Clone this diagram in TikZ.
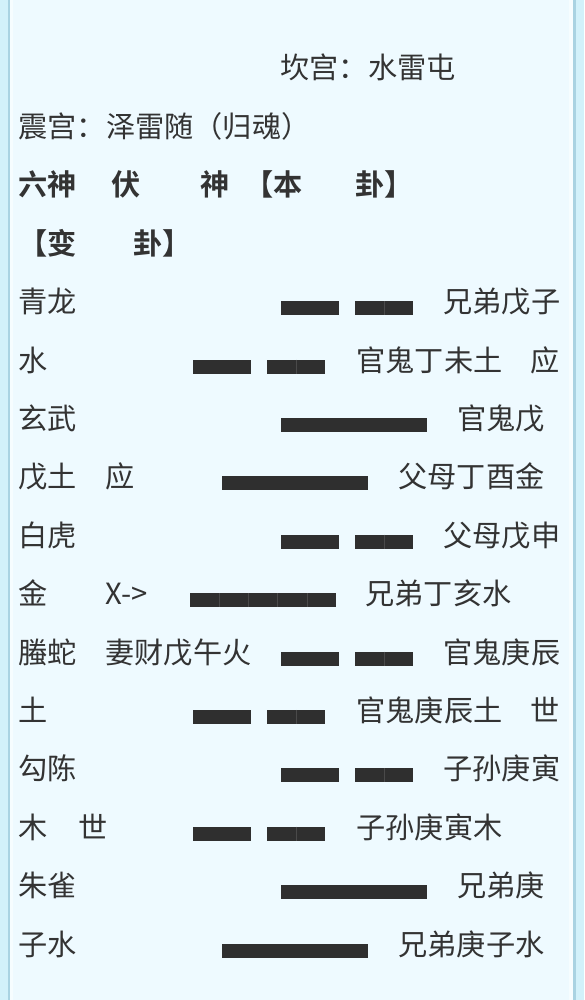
\documentclass[tikz,border=0pt]{standalone}
\usepackage{fontspec}
\usetikzlibrary{calc}
\setmainfont{Noto Sans CJK SC}[BoldFont={Noto Sans CJK SC Bold}]
\definecolor{bg}{HTML}{EEFAFF}
\definecolor{edgec}{HTML}{D2F1FA}
\definecolor{edgeline}{HTML}{A9D3E2}
\definecolor{edgelight}{HTML}{F6FDFF}
\definecolor{inkc}{HTML}{333333}
\definecolor{barc}{HTML}{2F2F2F}
\definecolor{sepc}{HTML}{4A4A4A}
\tikzset{
  txt/.style={anchor=base west, inner sep=0pt, outer sep=0pt, xshift=1pt, text=inkc, font=\fontsize{29.2}{34}\selectfont},
  hdr/.style={txt, font=\fontsize{29.2}{34}\selectfont\bfseries},
  barpiece/.style={anchor=north west, fill=barc, draw=none, inner sep=0pt, outer sep=0pt, minimum height=14pt, minimum width=#1},
  barpiece/.default=58pt,
  sep/.style={sepc, line width=0.6pt}
}
\begin{document}
\begin{tikzpicture}[x=1pt,y=-1pt]
\useasboundingbox (0,0) rectangle (584,1000);
% background and side borders
\fill[bg] (0,0) rectangle (584,1000);
\fill[edgec] (0,0) rectangle (8,1000);
\fill[edgeline] (8,0) rectangle (10,1000);
\fill[edgelight] (10,0) rectangle (12.7,1000);
\fill[edgelight] (569,0) rectangle (573,1000);
\fill[edgeline] (573,0) rectangle (576,1000);
\fill[edgec] (576,0) rectangle (584,1000);

% titles
\node[txt] (t1) at (279.5,79) {坎宫：水雷屯};
\node[txt] (t2) at (17.5,137.4) {震宫：泽雷随（归魂）};
% header
\node[hdr] (h1) at (17.5,195.8) {六神};
\node[hdr] (h2) at (110.5,195.8) {伏};
\node[hdr] (h3) at (199.5,195.8) {神};
\node[hdr] (h4) at (243.5,195.8) {【本};
\node[hdr] (h5) at (354.5,195.8) {卦】};
\node[hdr] (h6) at (17.5,254.2) {【变};
\node[hdr] (h7) at (132.5,254.2) {卦】};

% row 4 青龙
\node[txt] (l4) at (17.5,312.6) {青龙};
\node[barpiece] (b4a) at (281,301.1) {};
\node[barpiece] (b4b) at (355,301.1) {};
\draw[sep] (b4b.north) -- (b4b.south);
\node[txt] (r4) at (442.5,312.6) {兄弟戊子};

% row 5 水
\node[txt] (l5) at (17.5,371) {水};
\node[barpiece] (b5a) at (193,359.5) {};
\node[barpiece] (b5b) at (267,359.5) {};
\draw[sep] (b5b.north) -- (b5b.south);
\node[txt] (r5) at (355.5,371) {官鬼丁未土};
\node[txt] (s5) at (529.5,371) {应};

% row 6 玄武
\node[txt] (l6) at (17.5,429.4) {玄武};
\node[barpiece=146pt] (b6) at (281,417.9) {};
\node[txt] (r6) at (456.5,429.4) {官鬼戊};

% row 7 戊土 应
\node[txt] (l7) at (17.5,487.8) {戊土};
\node[txt] (m7) at (104.5,487.8) {应};
\node[barpiece=146pt] (b7) at (222,476.3) {};
\node[txt] (r7) at (397.5,487.8) {父母丁酉金};

% row 8 白虎
\node[txt] (l8) at (17.5,546.2) {白虎};
\node[barpiece] (b8a) at (281,534.7) {};
\node[barpiece] (b8b) at (355,534.7) {};
\draw[sep] (b8b.north) -- (b8b.south);
\node[txt] (r8) at (442.5,546.2) {父母戊申};

% row 9 金 X->
\node[txt] (l9) at (17.5,604.6) {金};
\node[txt] (m9) at (104.5,604.6) {X->};
\node[barpiece=146pt] (b9) at (190,593.1) {};
\foreach \k in {1,2,3,4} \draw[sep] ($(b9.north west)+(29.2*\k,0)$) -- ($(b9.south west)+(29.2*\k,0)$);
\node[txt] (r9) at (364.5,604.6) {兄弟丁亥水};

% row 10 螣蛇
\node[txt] (l10) at (17.5,663) {螣蛇};
\node[txt] (m10) at (104.5,663) {妻财戊午火};
\node[barpiece] (b10a) at (281,651.5) {};
\node[barpiece] (b10b) at (355,651.5) {};
\draw[sep] (b10b.north) -- (b10b.south);
\node[txt] (r10) at (442.5,663) {官鬼庚辰};

% row 11 土
\node[txt] (l11) at (17.5,721.4) {土};
\node[barpiece] (b11a) at (193,709.9) {};
\node[barpiece] (b11b) at (267,709.9) {};
\draw[sep] (b11b.north) -- (b11b.south);
\node[txt] (r11) at (355.5,721.4) {官鬼庚辰土};
\node[txt] (s11) at (529.5,721.4) {世};

% row 12 勾陈
\node[txt] (l12) at (17.5,779.8) {勾陈};
\node[barpiece] (b12a) at (281,768.3) {};
\node[barpiece] (b12b) at (355,768.3) {};
\draw[sep] (b12b.north) -- (b12b.south);
\node[txt] (r12) at (442.5,779.8) {子孙庚寅};

% row 13 木 世
\node[txt] (l13) at (17.5,838.2) {木};
\node[txt] (m13) at (77.5,838.2) {世};
\node[barpiece] (b13a) at (193,826.7) {};
\node[barpiece] (b13b) at (267,826.7) {};
\draw[sep] (b13b.north) -- (b13b.south);
\node[txt] (r13) at (355.5,838.2) {子孙庚寅木};

% row 14 朱雀
\node[txt] (l14) at (17.5,896.6) {朱雀};
\node[barpiece=146pt] (b14) at (281,885.1) {};
\node[txt] (r14) at (456.5,896.6) {兄弟庚};

% row 15 子水
\node[txt] (l15) at (17.5,955) {子水};
\node[barpiece=146pt] (b15) at (222,943.5) {};
\node[txt] (r15) at (397.5,955) {兄弟庚子水};
\end{tikzpicture}
\end{document}
